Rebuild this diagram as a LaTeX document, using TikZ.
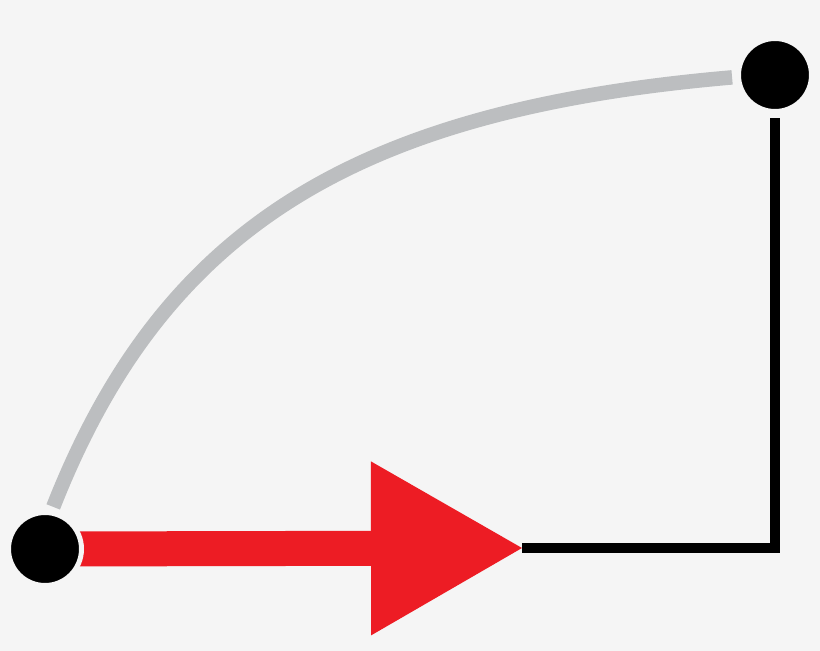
\documentclass[tikz,border=0pt]{standalone}
\usepackage{tikz}
\usetikzlibrary{arrows.meta}

\definecolor{paper}{HTML}{F5F5F5}
\definecolor{pathgray}{HTML}{BCBEC0}
\definecolor{vecred}{HTML}{ED1C24}

\pgfdeclarelayer{paperlayer}
\pgfdeclarelayer{linelayer}
\pgfsetlayers{paperlayer,linelayer,main}

\begin{document}
\begin{tikzpicture}[x=1pt,y=-1pt,
        endpoint/.style={circle,fill=black,draw=paper,line width=5pt,minimum size=73pt,inner sep=0pt,outer sep=2.5pt},
        curved/.style={pathgray,line width=14.5pt,shorten <=4pt,shorten >=4pt},
        legs/.style={black,line width=9.5pt,line join=miter,shorten <=4pt},
        push/.style={vecred,line width=35pt,-{Triangle[length=151pt,width=174pt,line width=0pt]}}]
            \useasboundingbox (0,0) rectangle (820,651);
            \begin{pgfonlayer}{paperlayer}
                \fill[paper] (0,0) rectangle (820,651);
            \end{pgfonlayer}

            \node[endpoint] (start) at (45,549) {};
            \node[endpoint] (top) at (775,75) {};
            \coordinate (tip) at (522,548);

            \begin{pgfonlayer}{linelayer}
                \draw[curved] (start.80) .. controls (163,228) and (354,110) .. (top.183);
                \draw[legs] (top.south) |- (tip);
                \draw[push] (start.center) -- (tip);
            \end{pgfonlayer}
        \end{tikzpicture}
\end{document}
